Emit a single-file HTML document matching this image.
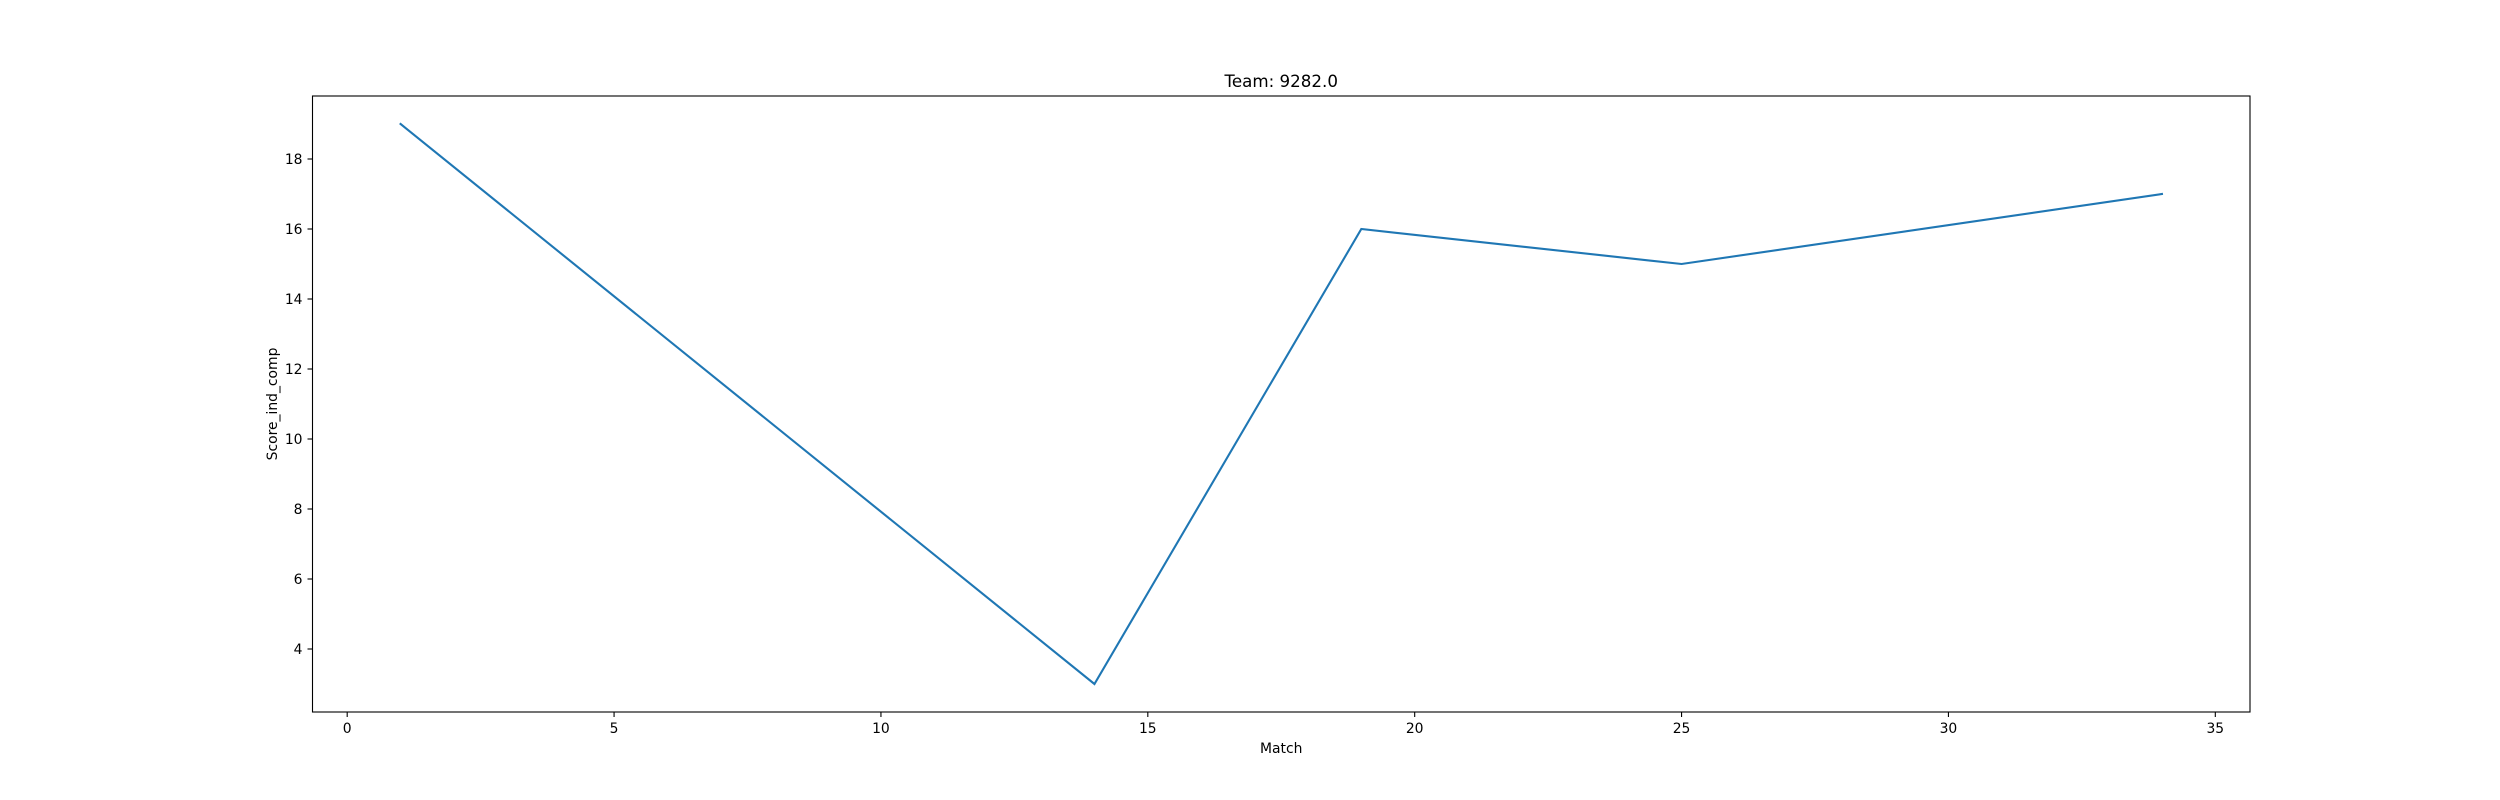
<!DOCTYPE html>
<html><head><meta charset="utf-8"><style>body{margin:0;background:#fff}svg{display:block;font-family:"DejaVu Sans","Liberation Sans",sans-serif}</style></head>
<body>
<svg id="chart" width="2500" height="800" xmlns="http://www.w3.org/2000/svg"></svg>
<script>
const matches = [1, 14, 19, 25, 34];
const scores = [19, 3, 16, 15, 17];
const xTicks = [0, 5, 10, 15, 20, 25, 30, 35];
const yTicks = [4, 6, 8, 10, 12, 14, 16, 18];
const L=312.5,R=2250,T=96,B=712;
const xmin=Math.min(...matches),xmax=Math.max(...matches),xp=(xmax-xmin)*0.05;
const ymin=Math.min(...scores),ymax=Math.max(...scores),yp=(ymax-ymin)*0.05;
const X=v=>L+(v-(xmin-xp))/((xmax+xp)-(xmin-xp))*(R-L);
const Y=v=>B-(v-(ymin-yp))/((ymax+yp)-(ymin-yp))*(B-T);
const svg=document.getElementById('chart');const NS='http://www.w3.org/2000/svg';
function mk(t,a,txt){const e=document.createElementNS(NS,t);for(const k in a)e.setAttribute(k,a[k]);if(txt!==undefined)e.textContent=txt;svg.appendChild(e);return e;}
const line=mk('polyline',{points:matches.map((m,i)=>X(m)+','+Y(scores[i])).join(' '),fill:'none',stroke:'#1f77b4','stroke-width':2.1,'stroke-linecap':'square'});


xTicks.forEach(t=>{const x=X(t);
const tk=mk('line',{x1:x,x2:x,y1:B,y2:B+5,stroke:'#000','stroke-width':1.1});


const lb=mk('text',{x:x,y:B+21,'text-anchor':'middle','font-size':13.9},String(t));

});
yTicks.forEach(t=>{const y=Y(t);
const tk=mk('line',{x1:L-5,x2:L,y1:y,y2:y,stroke:'#000','stroke-width':1.1});


const lb=mk('text',{x:L-10,y:y+5,'text-anchor':'end','font-size':13.9},String(t));

});
const fr=mk('rect',{x:L,y:T,width:R-L,height:B-T,fill:'none',stroke:'#000','stroke-width':1.1});


const ti=mk('text',{x:(L+R)/2,y:T-9,'text-anchor':'middle','font-size':16.7},'Team: 9282.0');


const xl=mk('text',{x:(L+R)/2,y:B+41,'text-anchor':'middle','font-size':13.9},'Match');


const yl=mk('text',{x:0,y:0,'text-anchor':'middle','font-size':13.9,transform:`translate(277,${(T+B)/2}) rotate(-90)`},'Score_ind_comp');


</script>
</body></html>
